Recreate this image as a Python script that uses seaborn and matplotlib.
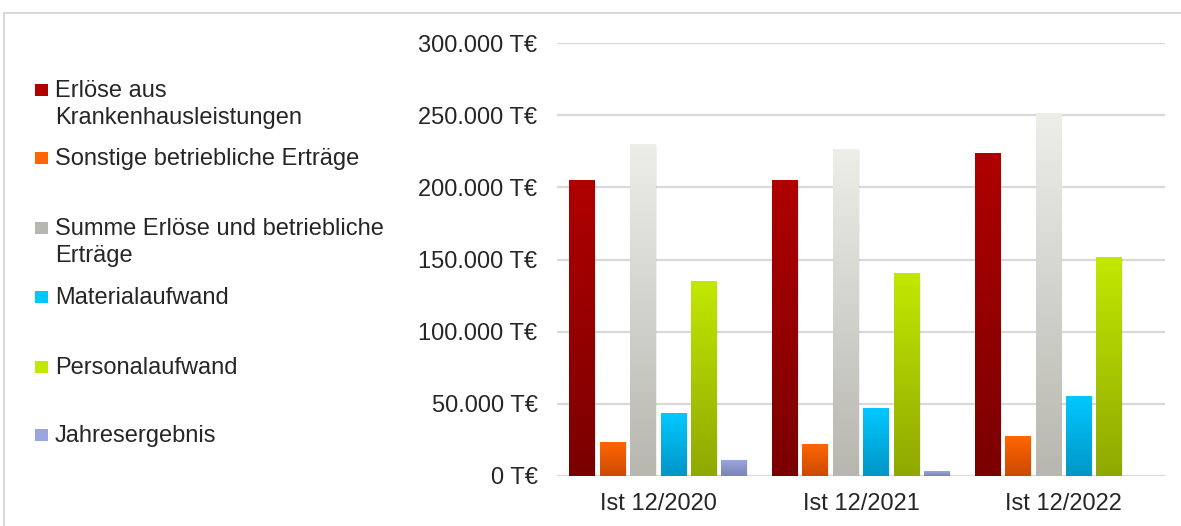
import numpy as np
import pandas as pd
import matplotlib
matplotlib.use("Agg")
import matplotlib.pyplot as plt
import seaborn as sns
from matplotlib.colors import LinearSegmentedColormap
from matplotlib.patches import Rectangle
from matplotlib.ticker import FuncFormatter

# Values in T€
years = ["Ist 12/2020", "Ist 12/2021", "Ist 12/2022"]
positions = [
    "Erlöse aus\nKrankenhausleistungen",
    "Sonstige betriebliche Erträge",
    "Summe Erlöse und betriebliche\nErträge",
    "Materialaufwand",
    "Personalaufwand",
    "Jahresergebnis",
]
erloese_kh = [205000, 205000, 223500]
sonstige_ertraege = [23500, 22000, 27700]
summe_erloese = [230000, 226500, 251000]
materialaufwand = [43000, 47000, 55400]
personalaufwand = [134500, 140500, 151700]
jahresergebnis = [11000, 2800, 0]

# gradient colours per series (top, bottom)
grad_colors = [
    ("#b00000", "#7a0000"),
    ("#ff6600", "#cc4a00"),
    ("#eeeee9", "#b7b7b0"),
    ("#00c8ff", "#0096c6"),
    ("#c2e800", "#8fa800"),
    ("#9aa6dc", "#7a84b6"),
]

series = [erloese_kh, sonstige_ertraege, summe_erloese,
          materialaufwand, personalaufwand, jahresergebnis]
rows = []
for pos, vals in zip(positions, series):
    for yr, v in zip(years, vals):
        rows.append({"Jahr": yr, "Position": pos, "Wert": v})
df = pd.DataFrame(rows)

plt.rcParams["font.family"] = ["Liberation Sans", "DejaVu Sans"]
text_color = "#262626"
W, H = 1181, 526

fig = plt.figure(figsize=(W / 100, H / 100), dpi=100)
ax = fig.add_axes([557 / W, 50 / H, 608 / W, 433 / H])

palette = {p: c[0] for p, c in zip(positions, grad_colors)}
sns.barplot(data=df, x="Jahr", y="Wert", hue="Position", palette=palette,
            width=0.9, gap=0.15, legend=False, ax=ax, zorder=3)

# replace flat fills with vertical gradients
grad = np.linspace(1, 0, 256).reshape(-1, 1)
for cont, (top, bot) in zip(ax.containers, grad_colors):
    cmap = LinearSegmentedColormap.from_list("g", [bot, top])
    for bar in cont:
        x, w, h = bar.get_x(), bar.get_width(), bar.get_height()
        if h <= 0:
            continue
        bar.set_facecolor("none")
        bar.set_edgecolor("none")
        ax.imshow(grad, extent=[x, x + w, 0, h], aspect="auto",
                  cmap=cmap, vmin=0, vmax=1, zorder=3)
        # soft shadow
        ax.add_patch(Rectangle((x + w * 0.04, 0), w, h * 0.995,
                               facecolor="#000000", alpha=0.06,
                               edgecolor="none", zorder=2.5))

ax.set_xlim(-0.5, 2.5)
ax.set_ylim(0, 300000)
ax.set_yticks(np.arange(0, 300001, 50000))
ax.yaxis.set_major_formatter(
    FuncFormatter(lambda v, _: f"{v:,.0f} T€".replace(",", ".")))
ax.grid(axis="y", color="#d9d9d9", linewidth=1.6, zorder=0)
ax.set_axisbelow(True)
for s in ax.spines.values():
    s.set_visible(False)
ax.tick_params(axis="y", length=0, pad=14, labelsize=17, labelcolor=text_color)
ax.tick_params(axis="x", length=0, pad=12, labelsize=17, labelcolor=text_color)
ax.set_xlabel("")
ax.set_ylabel("")

# legend on the left, laid out like the original (uneven slots)
cap_tops = [80, 148, 218, 287, 357, 425]
for label, (top, bot), yt in zip(positions, grad_colors, cap_tops):
    fig.text(55 / W, 1 - yt / H, label, fontsize=17, color=text_color,
             va="top", ha="left", linespacing=1.32)
    fig.patches.append(Rectangle((35 / W, 1 - (yt + 16) / H), 13 / W, 12 / H,
                                 transform=fig.transFigure,
                                 facecolor=bot if top == "#eeeee9" else top,
                                 edgecolor="none"))

# light frame around the chart area
fig.patches.append(Rectangle((4 / W, -0.05), 1.2, (H - 13) / H + 0.05,
                             transform=fig.transFigure, fill=False,
                             edgecolor="#d9d9d9", linewidth=1.5))

fig.savefig("out.png", dpi=100)
